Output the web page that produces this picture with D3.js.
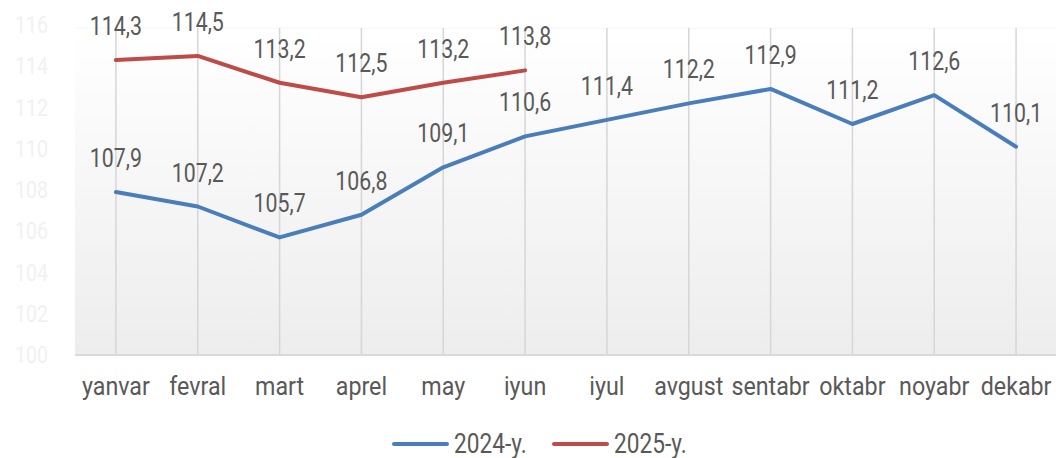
<!DOCTYPE html>
<html>
<head>
<meta charset="utf-8">
<script src="https://cdn.jsdelivr.net/npm/d3@7"></script>
<style>
  body { margin: 0; background: #fff; }
  svg { display: block; font-family: Roboto, sans-serif; }
</style>
</head>
<body>
<svg id="chart" width="1056" height="458"></svg>
<script>
// Chart data
const months = ["yanvar", "fevral", "mart", "aprel", "may", "iyun", "iyul", "avgust", "sentabr", "oktabr", "noyabr", "dekabr"];
const values2024 = [107.9, 107.2, 105.7, 106.8, 109.1, 110.6, 111.4, 112.2, 112.9, 111.2, 112.6, 110.1];
const values2025 = [114.3, 114.5, 113.2, 112.5, 113.2, 113.8];
const seriesNames = ["2024-y.", "2025-y."];
const yTicks = [100, 102, 104, 106, 108, 110, 112, 114, 116];

const svg = d3.select("#chart");
const MARGIN = { left: 75, right: -1, top: 25, bottom: 103 };
const width = 1056 - MARGIN.left - MARGIN.right;
const height = 458 - MARGIN.top - MARGIN.bottom;

const x = d3.scaleBand().domain(months).range([0, width]);
const y = d3.scaleLinear().domain([100, 116]).range([height, 0]);
const colors = ["#4a7ebb", "#be4b48"];
const cx = d => x(d) + x.bandwidth() / 2;

// condensed text: regular Roboto squeezed horizontally
function narrow(sel, px, py, size, sx) {
  return sel
    .attr("transform", d => `translate(${px(d)},${py(d)}) scale(${sx},1)`)
    .style("font-size", size + "px");
}

// background gradient
const grad = svg.append("defs").append("linearGradient")
  .attr("id", "bg").attr("x1", "0%").attr("y1", "0%").attr("x2", "0%").attr("y2", "100%");
grad.append("stop").attr("offset", "0%").attr("stop-color", "#ffffff");
grad.append("stop").attr("offset", "100%").attr("stop-color", "#ededed");

const g = svg.append("g").attr("transform", `translate(${MARGIN.left},${MARGIN.top})`);

g.append("rect")
  .attr("x", 0).attr("y", y(116) + 3)
  .attr("width", width).attr("height", height - y(116) - 3)
  .attr("fill", "url(#bg)");

g.append("line")
  .attr("x1", 0).attr("x2", width)
  .attr("y1", y(116) + 3).attr("y2", y(116) + 3)
  .attr("stroke", "#f6f6f6");

// vertical grid lines at category centers
g.selectAll(".vgrid")
  .data(months)
  .join("line")
  .attr("class", "vgrid")
  .attr("x1", cx).attr("x2", cx)
  .attr("y1", y(116) + 3)
  .attr("y2", height)
  .attr("stroke", "#d6d6d6")
  .attr("stroke-width", 1.5);

// bottom axis line
g.append("line")
  .attr("x1", 0).attr("x2", width)
  .attr("y1", height).attr("y2", height)
  .attr("stroke", "#d9d9d9").attr("stroke-width", 2);

// y axis labels (nearly invisible in the original)
narrow(g.selectAll(".ylab")
  .data(yTicks)
  .join("text")
  .attr("class", "ylab")
  .attr("text-anchor", "end")
  .attr("fill", "#f1f1f1")
  .text(d => d), () => -27, d => y(d) + 8, 23, 0.85);

// x axis labels
narrow(g.selectAll(".xlab")
  .data(months)
  .join("text")
  .attr("class", "xlab")
  .attr("text-anchor", "middle")
  .attr("fill", "#595959")
  .text(d => d), cx, () => height + 40, 25, 0.93);

const line = d3.line()
  .x(d => cx(d.m))
  .y(d => y(d.v));

const series = [values2024, values2025].map((vals, i) => ({
  name: seriesNames[i],
  color: colors[i],
  points: vals.map((v, j) => ({ m: months[j], v: v }))
}));

series.forEach(s => {
  g.append("path")
    .datum(s.points)
    .attr("d", line)
    .attr("fill", "none")
    .attr("stroke", s.color)
    .attr("stroke-width", 4)
    .attr("stroke-linejoin", "round")
    .attr("stroke-linecap", "round");

  narrow(g.selectAll(null)
    .data(s.points)
    .join("text")
    .attr("text-anchor", "middle")
    .attr("fill", "#595959")
    .text(d => d3.format(".1f")(d.v).replace(".", ",")),
    d => cx(d.m), d => y(d.v) - 25, 26, 0.82);
});

// legend
const legend = svg.append("g").attr("transform", "translate(393,444)");
const legendX = [0, 160];
series.forEach((s, i) => {
  const lg = legend.append("g").attr("transform", `translate(${legendX[i]},0)`);
  lg.append("line")
    .attr("x1", 1).attr("x2", 54)
    .attr("stroke", s.color).attr("stroke-width", 4)
    .attr("stroke-linecap", "round");
  narrow(lg.append("text")
    .datum(s.name)
    .attr("fill", "#595959")
    .text(d => d), () => 61, () => 9, 27, 0.84);
});
</script>
</body>
</html>
